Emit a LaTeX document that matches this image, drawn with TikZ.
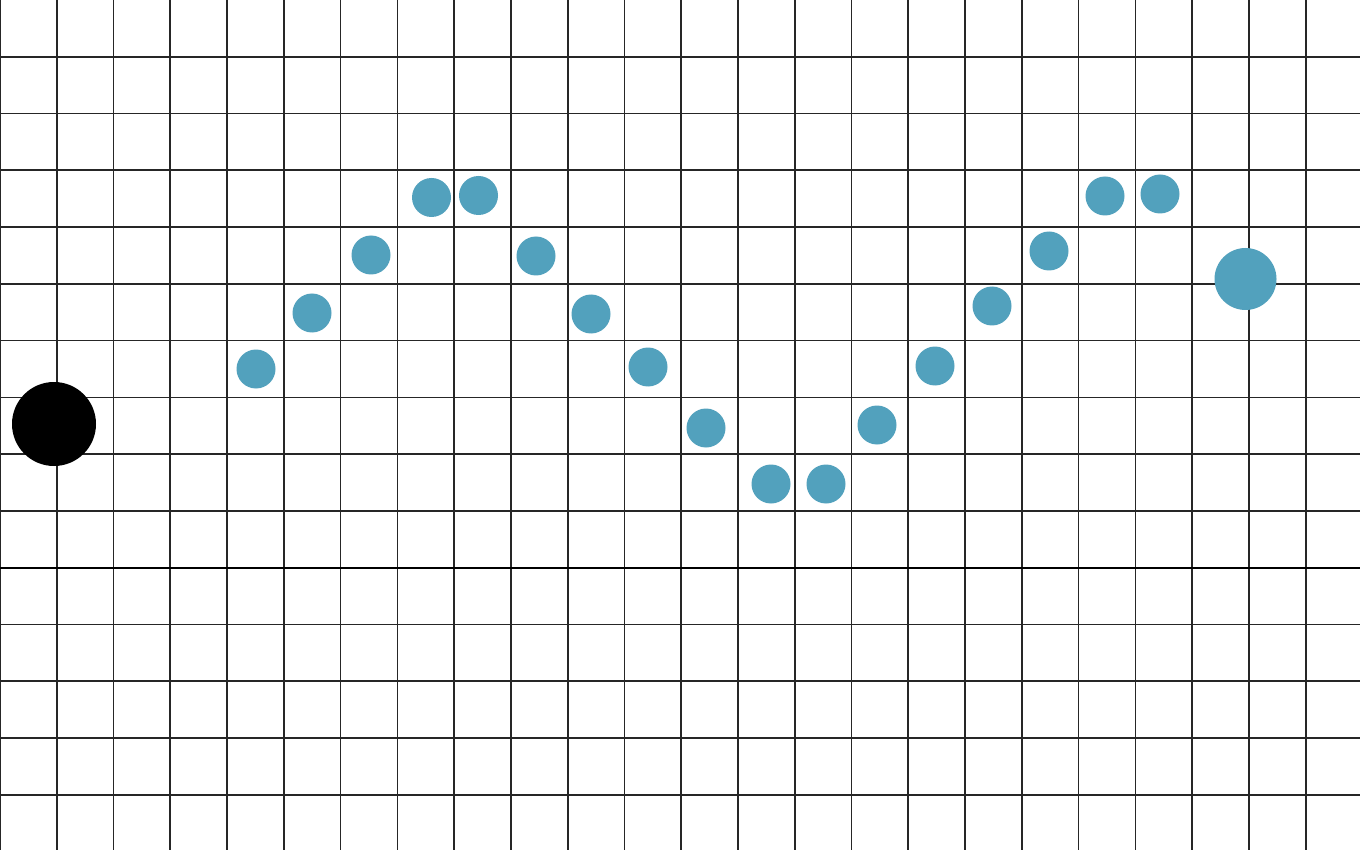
\documentclass[tikz,border=0pt]{standalone}
\definecolor{teal1}{HTML}{52A1BD}
\tikzset{
  gridline/.style={line width=1.7pt, draw=black!85},
  axisline/.style={line width=2.6pt, draw=black},
  dot/.style={circle, fill=teal1, inner sep=0pt, minimum size=39pt},
  bigdot/.style={circle, fill=teal1, inner sep=0pt, minimum size=62pt},
  blackdot/.style={circle, fill=black, inner sep=0pt, minimum size=84pt}
}
\begin{document}
\begin{tikzpicture}[x=1pt,y=-1pt]
\useasboundingbox (0,0) rectangle (1360,850);
\fill[white] (0,0) rectangle (1360,850);
\foreach \k in {0,...,23} {
  \draw[gridline] ({\k*56.77},0) -- ({\k*56.77},850);
}
\foreach \k in {1,...,14} {
  \draw[gridline] (0,{\k*56.77}) -- (1360,{\k*56.77});
}
\draw[axisline] (0,568) -- (1360,568);
\node[blackdot] (b) at (54,424) {};
\node[dot] (d1) at (256,369) {};
\node[dot] (d2) at (312,313) {};
\node[dot] (d3) at (371,255) {};
\node[dot] (d4) at (431.5,197.5) {};
\node[dot] (d5) at (478.5,195.5) {};
\node[dot] (d6) at (536,256) {};
\node[dot] (d7) at (591,314) {};
\node[dot] (d8) at (648,367) {};
\node[dot] (d9) at (706,428) {};
\node[dot] (d10) at (771,484) {};
\node[dot] (d11) at (826,484) {};
\node[dot] (d12) at (877,425) {};
\node[dot] (d13) at (935,366) {};
\node[dot] (d14) at (992,306) {};
\node[dot] (d15) at (1049,251) {};
\node[dot] (d16) at (1105,196) {};
\node[dot] (d17) at (1160,194) {};
\node[bigdot] (big) at (1245.5,279) {};
\end{tikzpicture}
\end{document}
